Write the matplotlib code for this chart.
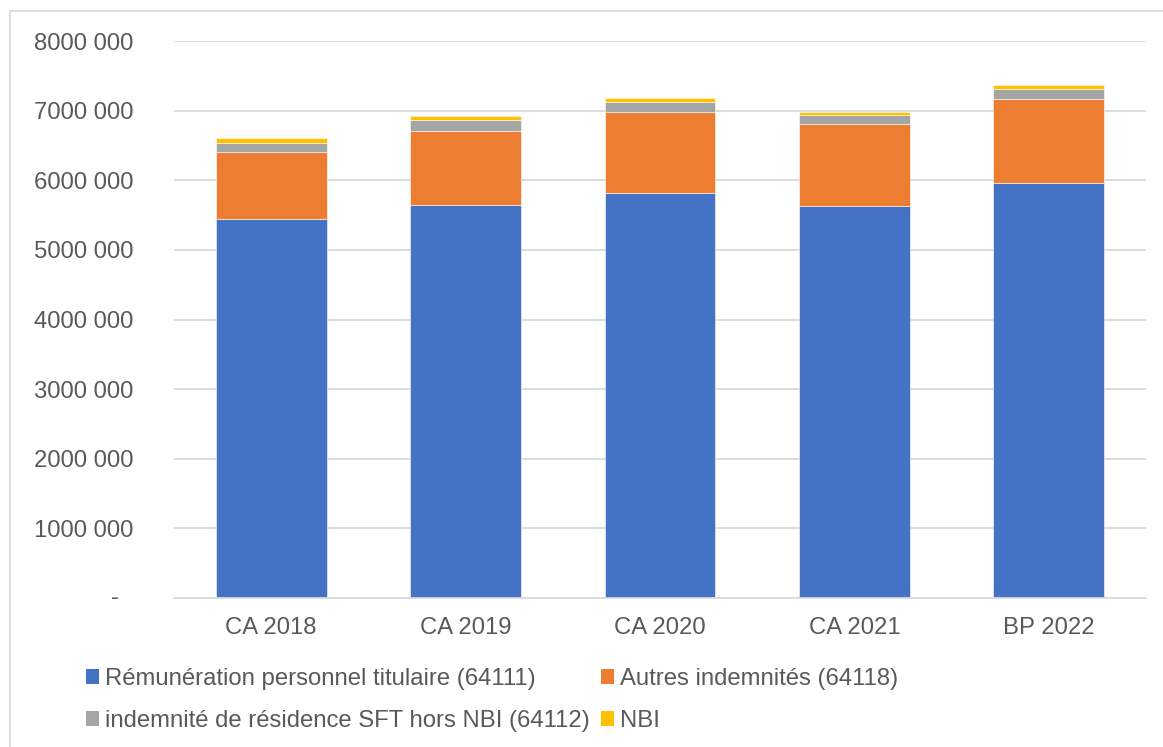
import matplotlib
matplotlib.use("Agg")
import matplotlib.pyplot as plt
from matplotlib.patches import Patch, Rectangle
from matplotlib.ticker import FuncFormatter, MultipleLocator
import matplotlib.transforms as mtransforms
import numpy as np

plt.rcParams['font.family'] = ['Liberation Sans', 'DejaVu Sans']

categories = ["CA 2018", "CA 2019", "CA 2020", "CA 2021", "BP 2022"]
remuneration = [5440000, 5640000, 5820000, 5637000, 5967000]
autres = [960000, 1074000, 1167000, 1169000, 1198000]
residence = [140000, 150000, 130000, 124000, 144000]
nbi = [62000, 61000, 63000, 57000, 62000]

labels = ["Rémunération personnel titulaire (64111)",
          "Autres indemnités (64118)",
          "indemnité de résidence SFT hors NBI (64112)",
          "NBI"]
colors = ["#4472C4", "#ED7D31", "#A5A5A5", "#FFC000"]
text_color = "#595959"
grid_color = "#D9D9D9"
FS = 17.2

W, H = 1163, 747
fig = plt.figure(figsize=(W / 100, H / 100), dpi=100)
ax = fig.add_axes([174 / W, 1 - 598 / H, (1146 - 174) / W, (598 - 41) / H])

x = np.arange(len(categories))
bottom = np.zeros(len(categories))
series = [remuneration, autres, residence, nbi]
for vals, col, lab in zip(series, colors, labels):
    ax.bar(x, vals, width=0.57, bottom=bottom, color=col, label=lab,
           edgecolor="white", linewidth=0.4, zorder=3)
    bottom += np.array(vals)

ax.set_xlim(-0.5, len(categories) - 0.5)
ax.set_ylim(0, 8000000)
ax.yaxis.set_major_locator(MultipleLocator(1000000))


def fmt(v, pos):
    v = int(round(v))
    if v == 0:
        return ""
    s = str(v)
    return s[:-3] + " " + s[-3:]


ax.yaxis.set_major_formatter(FuncFormatter(fmt))
ax.set_xticks(x)
ax.set_xticklabels(categories)
ax.tick_params(axis="both", length=0, labelsize=FS, labelcolor=text_color)
ax.tick_params(axis="y", pad=29)
ax.tick_params(axis="x", pad=14)
ax.grid(axis="y", color=grid_color, linewidth=1.3, zorder=0)
for s in ["top", "right", "left"]:
    ax.spines[s].set_visible(False)
ax.spines["bottom"].set_color(grid_color)
ax.spines["bottom"].set_linewidth(1.3)
ax.spines["bottom"].set_zorder(4)

# zero label shown as "-" (accounting format)
trans = mtransforms.blended_transform_factory(ax.transAxes, ax.transData)
trans = mtransforms.offset_copy(trans, fig=fig, x=-59, y=0, units="dots")
ax.text(0, 0, "-", transform=trans, ha="center", va="center",
        fontsize=FS, color=text_color)

# legend (row-wise order)
handles = [Patch(facecolor=c) for c in colors]
order = [0, 2, 1, 3]
leg = fig.legend([handles[i] for i in order], [labels[i] for i in order],
                 ncol=2, loc="upper left", bbox_to_anchor=(86 / W, 1 - 668 / H),
                 frameon=False, fontsize=FS, handlelength=0.55, handleheight=0.55,
                 handletextpad=0.25, columnspacing=0.45, labelspacing=0.83,
                 borderpad=0, borderaxespad=0)
for t in leg.get_texts():
    t.set_color(text_color)

# chart border
fig.patches.append(Rectangle((10 / W, -0.1), 1.2, 1 - 11 / H + 0.1,
                             transform=fig.transFigure, fill=False,
                             edgecolor=grid_color, linewidth=1.2))

fig.savefig("out.png", dpi=100)
